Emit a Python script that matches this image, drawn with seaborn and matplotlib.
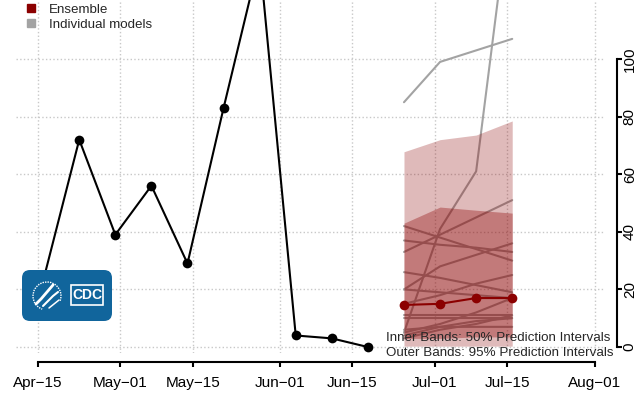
import matplotlib
matplotlib.use("Agg")
import numpy as np
import pandas as pd
import matplotlib.pyplot as plt
import matplotlib.dates as mdates
import seaborn as sns
from matplotlib.lines import Line2D
from matplotlib.patches import FancyBboxPatch, Rectangle, Arc

# observed weekly counts
obs_dates = ["2022-04-16", "2022-04-23", "2022-04-30", "2022-05-07", "2022-05-14",
             "2022-05-21", "2022-05-28", "2022-06-04", "2022-06-11", "2022-06-18"]
obs_values = [23, 72, 39, 56, 29, 83, 135, 4, 3, 0]

# forecast horizon
fc_dates = ["2022-06-25", "2022-07-02", "2022-07-09", "2022-07-16"]
ens_median = [14.6, 15.0, 17.0, 17.0]
pi95_lo = [0.3, 0.3, 0.3, 0.3]
pi95_hi = [67.8, 72.0, 73.6, 78.5]
pi50_lo = [3.0, 3.0, 3.5, 3.5]
pi50_hi = [43.0, 48.6, 47.5, 46.5]

# individual model forecasts (one list per model)
model_values = [
    [85, 99, 103, 107],
    [5, 41, 61, 160],
    [42, 38, 34, 30],
    [37, 35.5, 34.5, 33],
    [33, 39, 45, 51],
    [26, 24, 21.5, 19],
    [20, 28, 32, 36],
    [15, 18, 22, 25],
    [20, 19, 18, 17],
    [11, 11, 11, 11],
    [10, 10, 10, 10],
    [5, 8, 12, 17],
    [4, 7, 9, 10],
    [6, 7, 7, 7],
    [3, 6, 8, 11],
]

tick_dates = ["2022-04-15", "2022-05-01", "2022-05-15", "2022-06-01",
              "2022-06-15", "2022-07-01", "2022-07-15", "2022-08-01"]
tick_labels = ["Apr\u221215", "May\u221201", "May\u221215", "Jun\u221201",
               "Jun\u221215", "Jul\u221201", "Jul\u221215", "Aug\u221201"]
y_ticks = [0, 20, 40, 60, 80, 100]

sns.set_style("white")
plt.rcParams["font.family"] = ["Liberation Sans", "DejaVu Sans"]

obs = pd.DataFrame({"date": pd.to_datetime(obs_dates), "value": obs_values})
fc = pd.to_datetime(fc_dates)
models = pd.DataFrame([
    {"model": i, "date": d, "value": v}
    for i, vals in enumerate(model_values)
    for d, v in zip(fc, vals)
])

fig = plt.figure(figsize=(6.44, 3.99), dpi=100)
ax = fig.add_axes([16 / 644, 46 / 399, 589 / 644, 353 / 399])
ax.patch.set_alpha(0)

# individual models first, bands drawn over them
sns.lineplot(data=models, x="date", y="value", units="model", estimator=None,
             color="#a3a3a3", lw=1.5, ax=ax, legend=False, zorder=1.5)
ax.fill_between(fc, pi95_lo, pi95_hi, color="darkred", alpha=0.27, lw=0, zorder=2)
ax.fill_between(fc, pi50_lo, pi50_hi, color="darkred", alpha=0.34, lw=0, zorder=2.1)

sns.lineplot(x=fc, y=ens_median, color="darkred", lw=1.5, marker="o",
             markersize=7, markeredgewidth=0, ax=ax, zorder=3)
sns.lineplot(data=obs, x="date", y="value", color="black", lw=1.5, marker="o",
             markersize=7, markeredgewidth=0, ax=ax, zorder=3)

start = pd.Timestamp("2022-04-15")
ax.set_xlim(start - pd.Timedelta(days=4.27), start + pd.Timedelta(days=110))
ax.set_ylim(-2.08, 120.5)

ax.set_xticks(pd.to_datetime(tick_dates))
ax.set_xticklabels(tick_labels)
ax.set_yticks(y_ticks)
ax.set_xlabel("")
ax.set_ylabel("")

ax.grid(True, linestyle=":", color="#c8c8c8", lw=1)
ax.set_axisbelow(True)

for s in ["left", "top"]:
    ax.spines[s].set_visible(False)
ax.spines["bottom"].set_bounds(mdates.date2num(pd.Timestamp(tick_dates[0])),
                               mdates.date2num(pd.Timestamp(tick_dates[-1])))
ax.spines["bottom"].set_position(("outward", 6.5))
ax.spines["right"].set_bounds(0, 100)
ax.spines["right"].set_position(("outward", 8.3))
for s in ["bottom", "right"]:
    ax.spines[s].set_linewidth(1.5)
    ax.spines[s].set_color("black")

ax.yaxis.tick_right()
ax.tick_params(axis="x", bottom=True, direction="out", length=3.5, width=1.5,
               pad=6.5, labelsize=11, colors="black")
ax.tick_params(axis="y", right=True, left=False, direction="out", length=3.5,
               width=1.5, pad=1, labelsize=11, labelrotation=90, colors="black")
for lab in ax.get_yticklabels():
    lab.set_va("center")

# legend
handles = [Line2D([], [], marker="s", color="darkred", linestyle="", markersize=6),
           Line2D([], [], marker="s", color="#a3a3a3", linestyle="", markersize=6)]
fig.legend(handles, ["Ensemble", "Individual models"], loc="upper left",
           bbox_to_anchor=(24 / 644, 0.992), frameon=False, fontsize=9.6,
           handlelength=1.0, handletextpad=0.85, labelspacing=0.2,
           borderaxespad=0, borderpad=0)

fig.text(386 / 644, (399 - 338) / 399, "Inner Bands: 50% Prediction Intervals",
         fontsize=9.6, ha="left", va="center")
fig.text(386 / 644, (399 - 353) / 399, "Outer Bands: 95% Prediction Intervals",
         fontsize=9.6, ha="left", va="center")

# CDC logo badge
lax = fig.add_axes([22 / 644, (399 - 321) / 399, 90 / 644, 51 / 399])
lax.set_xlim(0, 90)
lax.set_ylim(0, 51)
lax.axis("off")
lax.add_patch(FancyBboxPatch((0, 0), 90, 51, boxstyle="round,pad=0,rounding_size=8",
                             facecolor="#11659c", edgecolor="none"))
lax.add_patch(Arc((25, 25), 28, 28, theta1=-20, theta2=250, color="white",
                  lw=1.0, linestyle=(0, (1, 0.8))))
lax.plot([14, 19, 25, 31], [17, 22, 29, 36], color="white", lw=2.0,
         solid_capstyle="round")
lax.plot([21, 26, 31, 36], [15, 20, 25, 29], color="white", lw=1.5,
         solid_capstyle="round")
lax.plot([27, 32, 37], [13, 17, 21], color="white", lw=1.1,
         solid_capstyle="round")
lax.add_patch(Rectangle((49, 16), 32, 20, facecolor="#11659c", edgecolor="white",
                        lw=1.2))
lax.text(65, 26, "CDC", color="white", fontsize=10, fontweight="bold",
         ha="center", va="center")

fig.savefig("out.png", dpi=100)
